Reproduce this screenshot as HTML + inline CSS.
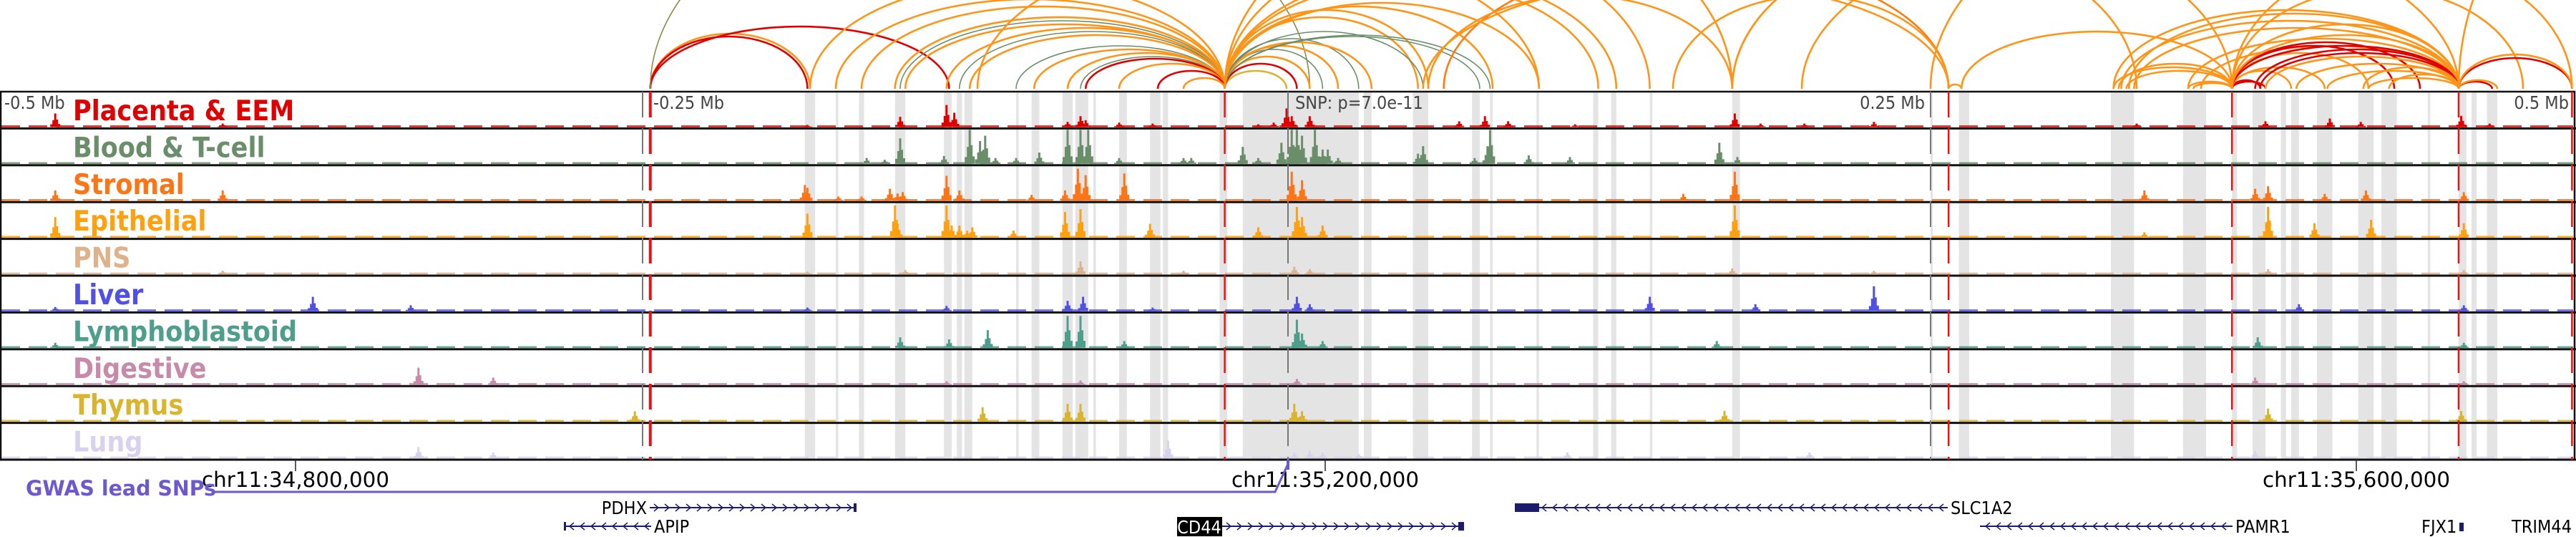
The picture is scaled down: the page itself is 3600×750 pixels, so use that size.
<!DOCTYPE html>
<html><head><meta charset="utf-8">
<style>
html,body{margin:0;padding:0;background:#fff;}
svg{display:block;}
text{font-family:"DejaVu Sans Condensed","DejaVu Sans","Liberation Sans",sans-serif;font-stretch:condensed;}
</style></head>
<body>
<svg id="chart" width="3600" height="750" viewBox="0 0 3600 750" xmlns="http://www.w3.org/2000/svg">
  <g id="arcs"></g>
  <g id="highlights"></g>
  <g id="tracks"></g>
  <g id="markers"></g>
  <g id="labels"></g>
  <g id="axis"></g>
  <g id="genes"></g>
</svg>
<script>
// ---- data (kb offsets relative to lead SNP) ----
const trackNames = ["Placenta & EEM","Blood & T-cell","Stromal","Epithelial","PNS","Liver","Lymphoblastoid","Digestive","Thymus","Lung"];
const trackColors = ["#e00000","#6a8e6a","#ff7414","#ffa00f","#deb28a","#5050e6","#4e9e8c","#c88aab","#d9b42c","#d8d2ec"];
const placentaPeaks = [[-478,0.4],[-413,0.1],[-186,0.06],[-150,0.3],[-132,0.65],[-129,0.42],[-85,0.15],[-80,0.32],[-78,0.2],[-65,0.13],[-52,0.1],[-11,0.08],[-5,0.13],[0,0.55],[2,0.32],[9,0.32],[67,0.17],[77,0.32],[86,0.17],[112,0.08],[174,0.4],[184,0.1],[201,0.1],[228,0.15],[330,0.1],[380,0.17],[405,0.25],[417,0.15],[456,0.33],[467,0.1]];
const bloodPeaks = [[-163,0.17],[-156,0.12],[-150,0.75],[-133,0.23],[-123,1],[-119,0.67],[-117,0.83],[-113,0.17],[-105,0.17],[-96,0.33],[-85,1],[-80,1],[-77,1],[-65,0.17],[-40,0.17],[-37,0.17],[-17,0.5],[-11,0.17],[-2,0.62],[2,1],[4,1],[6,0.83],[11,1],[14,0.42],[16,0.42],[20,0.17],[51,0.3],[53,0.52],[73,0.17],[78,0.52],[79,1],[94,0.25],[110,0.2],[168,0.62],[175,0.2]];
const stromalPeaks = [[-478,0.3],[-413,0.3],[-187,0.46],[-186,0.38],[-174,0.12],[-165,0.12],[-154,0.35],[-151,0.21],[-149,0.25],[-132,0.73],[-127,0.3],[-99,0.17],[-86,0.3],[-81,0.94],[-78,0.75],[-63,0.8],[2,0.85],[6,0.6],[154,0.2],[174,0.85],[333,0.3],[376,0.35],[381,0.42],[403,0.2],[419,0.3],[457,0.25]];
const epithelialPeaks = [[-478,0.6],[-186,0.7],[-152,0.94],[-151,0.4],[-132,0.94],[-130,0.35],[-127,0.35],[-124,0.2],[-122,0.3],[-106,0.2],[-86,0.75],[-80,0.83],[-53,0.4],[-11,0.3],[4,0.9],[6,0.6],[14,0.35],[174,0.94],[333,0.15],[381,0.9],[399,0.42],[421,0.52],[457,0.42]];
const pnsPeaks = [[-413,0.1],[-186,0.08],[-148,0.12],[-80,0.38],[-40,0.1],[3,0.22],[9,0.15],[173,0.17],[228,0.1],[381,0.15],[457,0.12]];
const liverPeaks = [[-478,0.12],[-378,0.42],[-340,0.17],[-186,0.1],[-132,0.15],[-85,0.3],[-79,0.42],[-52,0.1],[4,0.42],[9,0.2],[141,0.42],[182,0.2],[228,0.73],[393,0.2],[457,0.17]];
const lymphoPeaks = [[-478,0.15],[-150,0.31],[-131,0.25],[-116,0.52],[-85,0.94],[-80,0.94],[-63,0.2],[4,0.83],[6,0.42],[14,0.2],[167,0.2],[377,0.31],[457,0.15]];
const digestivePeaks = [[-337,0.5],[-308,0.21],[-132,0.1],[-80,0.12],[4,0.17],[376,0.21],[457,0.1]];
const thymusPeaks = [[-253,0.3],[-118,0.42],[-85,0.52],[-80,0.52],[3,0.52],[6,0.3],[170,0.31],[381,0.38],[456,0.31]];
const lungPeaks = [[-337,0.33],[-308,0.17],[-46,0.52],[3,0.17],[9,0.21],[14,0.17],[28,0.12],[109,0.17],[203,0.17],[376,0.21]];
const allPeaks = [placentaPeaks,bloodPeaks,stromalPeaks,epithelialPeaks,pnsPeaks,liverPeaks,lymphoPeaks,digestivePeaks,thymusPeaks,lungPeaks];
const highlightRegions = [[-187,-183],[-175,-174],[-166,-164],[-152,-148],[-133,-130],[-128,-126],[-125,-122],[-105,-104],[-99,-96],[-87,-83],[-82,-77],[-75,-74],[-65,-62],[-53,-49],[-48,-46],[-26,-23],[-17,28],[30,33],[49,55],[72,75],[79,80],[97,98],[119,121],[126,128],[141,142],[173,176],[250,250.5],[261,265],[320,329],[348,357],[367,369],[375,380],[386,388],[390,393],[400,406],[416,422],[425,431],[443,444],[455,458],[460,462],[466,470]];
const redMarkers = [-247,-24,257,367,455,499];
const arcStarts = [-247,-247,-247,-247,-185,-175,-165,-152,-150,-148,-132,-127,-123,-105,-98,-85,-80,-78,-65,-50,-40,-24,-24,-24,-24,-24,-24,-24,-24,-24,-24,-24,-24,-24,-24,-24,-24,-24,61,-24,173,-120,55,53,257,262,173,321,323,326,321,324,327,329,350,352,350,355,367,367,367,367,367,367,367,367,367,367,367,367,376,378,380,392,404,418,428,420,455,455,455,455,455,200,150,250];
const arcEnds   = [-185,-186,-131,9,-24,-24,-24,-24,-24,-24,-24,-24,-24,-24,-24,-24,-24,-24,-24,-24,-24,0,4,9,14,20,28,33,51,53,55,75,79,80,98,121,128,141,257,173,330,98,173,257,262,367,367,367,367,367,455,455,455,455,367,367,455,455,378,380,390,403,420,430,440,455,455,455,499,480,455,455,455,455,455,455,455,455,468,470,499,499,540,455,257,520];
const arcHeights= [77,73,87,300,150,125,115,100,95,90,85,80,75,60,55,50,45,42,35,25,15,25,35,45,55,60,70,65,100,80,110,73,75,115,120,150,160,200,180,260,200,200,130,150,6,80,220,30,35,25,110,95,105,85,10,8,70,60,12,10,25,30,50,60,65,60,75,90,180,140,55,50,45,35,25,30,20,15,10,12,43,48,250,230,130,300];
const arcColorKeys = ["o","r","r","v","o","o","o","o","g","o","o","g","o","g","o","o","g","r","o","r","o","y","r","o","g","o","g","o","o","g","o","g","g","o","o","o","o","o","p","o","o","o","o","o","o","o","o","o","o","o","o","o","o","o","o","o","o","o","r","r","o","o","o","r","r","r","o","o","o","o","r","r","o","o","o","o","o","o","r","o","r","o","o","o","o","o"];
const arcColorMap = {o:"#ff9416",p:"#ff7a10",r:"#e00000",g:"#6a8e6a",y:"#e0b030",v:"#8b8b4b"};

// ---- geometry ----
const SNPX = 1798, PXKB = 3.6;
function xs(kb){ return SNPX + kb*PXKB; }
const PANEL_TOP = 128, TRACK_H = 51.4, NT = 10;
const PANEL_BOT = PANEL_TOP + TRACK_H*NT;
const ARC_BASE = 124;
const NS = "http://www.w3.org/2000/svg";
function mk(tag, attrs, parent){ const e=document.createElementNS(NS,tag); for(const k in attrs) e.setAttribute(k,attrs[k]); parent.appendChild(e); return e; }

// arcs
const gArcs = document.getElementById('arcs');
mk('clipPath',{id:'arcclip'},gArcs).appendChild((()=>{const r=document.createElementNS(NS,'rect');r.setAttribute('x',0);r.setAttribute('y',0);r.setAttribute('width',3600);r.setAttribute('height',ARC_BASE+1);return r;})());
const arcLayer = mk('g',{'clip-path':'url(#arcclip)'},gArcs);
for(let i=0;i<arcStarts.length;i++){
  const x1=xs(arcStarts[i]), x2=xs(arcEnds[i]);
  const rx=Math.abs(x2-x1)/2, ry=arcHeights[i];
  const p=mk('path',{d:`M${x1},${ARC_BASE} A${rx},${ry} 0 0 1 ${x2},${ARC_BASE}`,fill:'none',stroke:arcColorMap[arcColorKeys[i]],'stroke-width':arcColorKeys[i]==='g'||arcColorKeys[i]==='v'?1.6:2.6},arcLayer);
  
  
}

// highlight columns
const gH = document.getElementById('highlights');
highlightRegions.forEach(r=>{
  const x1=xs(r[0]), x2=xs(r[1]);
  const e=mk('rect',{x:x1,y:PANEL_TOP,width:Math.max(3,x2-x1),height:PANEL_BOT-PANEL_TOP,fill:'#e4e4e4'},gH);
  
  
});

// tracks
const gT = document.getElementById('tracks');
const gL = document.getElementById('labels');
for(let t=0;t<NT;t++){
  const top = PANEL_TOP + t*TRACK_H;
  const base = top + TRACK_H - 2;
  const ph = TRACK_H - 4;
  const col = trackColors[t];
  const g = mk('g',{},gT);
  
  
  mk('line',{x1:2,y1:base-1,x2:3596,y2:base-1,stroke:col,'stroke-width':2.5,'stroke-dasharray':'26,12',opacity:0.85},g);
  allPeaks[t].forEach(pk=>{
    const cx=xs(pk[0]), h=pk[1]*ph;
    const bar=mk('path',{d:`M${cx-7},${base} V${base-h*0.2} H${cx-4} V${base-h*0.5} H${cx-1.5} V${base-h} H${cx+1.5} V${base-h*0.55} H${cx+4} V${base-h*0.22} H${cx+7} V${base} Z`,fill:col},g);
    
    
  });
  const sep=mk('line',{x1:0,y1:top+TRACK_H,x2:3600,y2:top+TRACK_H,stroke:'#111','stroke-width':3},g);
  
  
  const lab=mk('text',{x:102,y:top+40,'font-size':39,'font-weight':'bold',fill:col},gL);
  lab.textContent=trackNames[t];
  
  
}
mk('rect',{x:1,y:PANEL_TOP,width:3597,height:PANEL_BOT-PANEL_TOP,fill:'none',stroke:'#111','stroke-width':2.5},gT);

// markers
const gM = document.getElementById('markers');
[-250,250].forEach(k=>{ mk('line',{x1:xs(k),y1:PANEL_TOP,x2:xs(k),y2:PANEL_BOT,stroke:'#777','stroke-width':2,'stroke-dasharray':'36,15'},gM); });
redMarkers.forEach((k,i)=>{
  const l=mk('line',{x1:xs(k),y1:PANEL_TOP,x2:xs(k),y2:PANEL_BOT,stroke:'#ee1111','stroke-width':i===0?4:2.5,'stroke-dasharray':'36,15'},gM);
  
  
});
mk('line',{x1:xs(0)+2,y1:PANEL_TOP,x2:xs(0)+2,y2:PANEL_BOT,stroke:'#777','stroke-width':2,'stroke-dasharray':'36,15'},gM);
</script>
<script>
(function(){
const NS="http://www.w3.org/2000/svg";
function mk(tag,a,p){const e=document.createElementNS(NS,tag);for(const k in a)e.setAttribute(k,a[k]);p.appendChild(e);return e;}
const gA=document.getElementById('axis');
const scaleLabels=[["-0.5 Mb",6,"start"],["-0.25 Mb",913,"start"],["SNP: p=7.0e-11",1810,"start"],["0.25 Mb",2690,"end"],["0.5 Mb",3590,"end"]];
scaleLabels.forEach(s=>{const t=mk('text',{x:s[1],y:152,'font-size':25,fill:'#444','text-anchor':s[2]},gA);t.textContent=s[0];

});
const tickX=[413,1852,3293];
const tickLabels=["chr11:34,800,000","chr11:35,200,000","chr11:35,600,000"];
tickX.forEach((x,i)=>{mk('line',{x1:x,y1:642,x2:x,y2:658,stroke:'#222','stroke-width':1.5},gA);
const t=mk('text',{x:x,y:680,'font-size':29,'text-anchor':'middle',fill:'#000',textLength:262,lengthAdjust:'spacingAndGlyphs'},gA);t.textContent=tickLabels[i];

});
const gG=document.getElementById('genes');
const gw=mk('text',{x:36,y:692,'font-size':29,'font-weight':'bold',fill:'#6a5acd',textLength:266,lengthAdjust:'spacingAndGlyphs'},gG);gw.textContent="GWAS lead SNPs";


mk('path',{d:'M300,687 H1782 L1800,648',fill:'none',stroke:'#6a5acd','stroke-width':3},gG);
mk('line',{x1:1800,y1:642,x2:1800,y2:656,stroke:'#6a5acd','stroke-width':4},gG);
function gene(name,x1,x2,y,dir,labelSide,boxes){
  const g=mk('g',{},gG);
  
  
  mk('line',{x1:x1,y1:y,x2:x2,y2:y,stroke:'#1c1c6e','stroke-width':2},g);
  let d='';
  for(let x=x1+10;x<x2-6;x+=15){ d+= dir>0?`M${x-4},${y-5} L${x+2},${y} L${x-4},${y+5} `:`M${x+4},${y-5} L${x-2},${y} L${x+4},${y+5} `; }
  mk('path',{d:d,fill:'none',stroke:'#1c1c6e','stroke-width':1.5},g);
  (boxes||[]).forEach(b=>mk('rect',{x:b[0],y:y-b[2]/2,width:b[1],height:b[2],fill:'#1c1c6e'},g));
  if(labelSide==='left'){const t=mk('text',{x:x1-4,y:y+9,'font-size':25,'text-anchor':'end',fill:'#000'},g);t.textContent=name;}
  else if(labelSide==='right'){const t=mk('text',{x:x2+4,y:y+9,'font-size':25,fill:'#000'},g);t.textContent=name;}
  return g;
}
gene("PDHX",908,1197,709,1,'left',[[1193,4,12]]);
gene("APIP",788,910,735,-1,'right',[[788,3,12]]);
gene("SLC1A2",2117,2722,709,-1,'right',[[2117,34,12]]);
const cd=gene("CD44",1708,2045,735,1,'none',[[2038,8,12]]);
mk('rect',{x:1645,y:722,width:63,height:27,fill:'#000'},cd);
const cdt=mk('text',{x:1676,y:745,'font-size':25,'text-anchor':'middle',fill:'#fff'},cd);cdt.textContent="CD44";
gene("PAMR1",2767,3120,735,-1,'right',[]);
const fj=mk('text',{x:3384,y:744,'font-size':25,fill:'#000'},gG);fj.textContent="FJX1";


mk('rect',{x:3437,y:730,width:6,height:12,fill:'#1c1c6e'},gG);
const tr=mk('text',{x:3510,y:744,'font-size':25,fill:'#000'},gG);tr.textContent="TRIM44";


})();
</script>
</body></html>
